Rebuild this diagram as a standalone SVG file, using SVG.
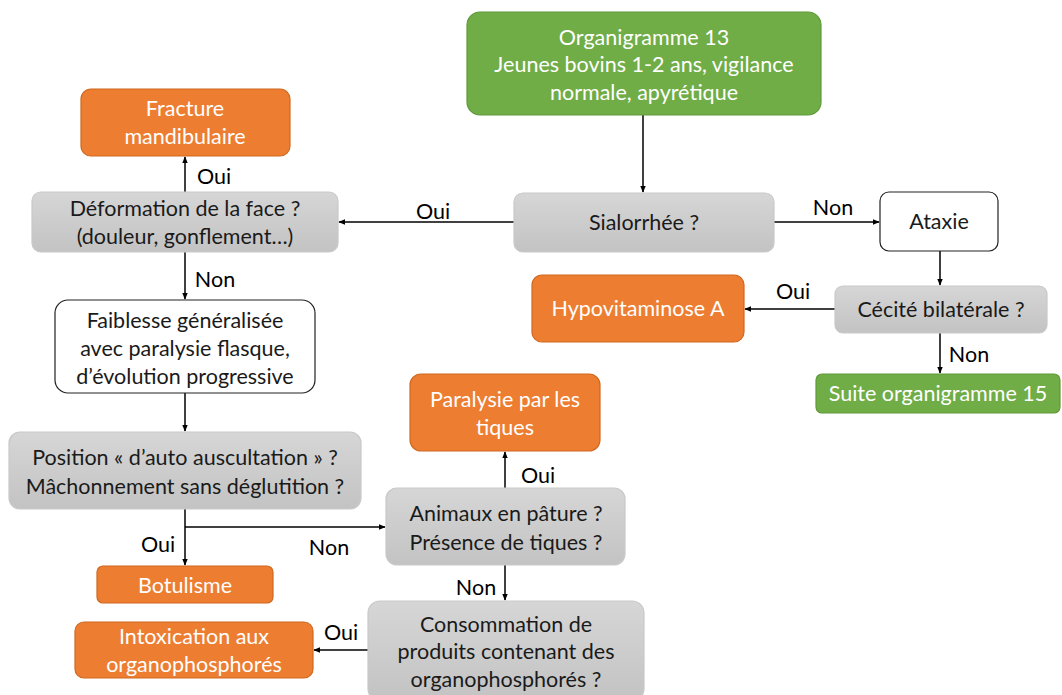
<svg xmlns="http://www.w3.org/2000/svg" width="1062" height="695" viewBox="0 0 1062 695">
  <defs>
    <linearGradient id="grayFill" x1="0" y1="0" x2="0" y2="1">
      <stop offset="0" stop-color="#d6d6d6"/>
      <stop offset="1" stop-color="#c3c3c3"/>
    </linearGradient>
    <marker id="arrow" viewBox="0 0 10 10" refX="9" refY="5" markerWidth="7" markerHeight="7" orient="auto" markerUnits="userSpaceOnUse">
      <path d="M0,1 L10,5 L0,9 Z" fill="#000"/>
    </marker>
    <style>
      .box { stroke-width: 1.2; }
      .green { fill: #70ad47; stroke: #5e9a38; }
      .orange { fill: #ed7d31; stroke: #d0691f; }
      .gray { fill: url(#grayFill); stroke: #c9c9c9; }
      .white { fill: #ffffff; stroke: #222; }
      text { font-family: Lato, "Open Sans", "Liberation Sans", sans-serif; font-size: 21.5px; text-anchor: middle; dominant-baseline: central; }
      .lt { fill: #ffffff; }
      .dk { fill: #1a1a1a; }
      .lbl { fill: #000; text-anchor: middle; }
      .edge { stroke: #000; stroke-width: 1.5; fill: none; }
    </style>
  </defs>

  <!-- connectors -->
  <g id="connectors">
    <line class="edge" x1="643" y1="115" x2="643" y2="192" marker-end="url(#arrow)"/>
    <line class="edge" x1="514" y1="222" x2="339" y2="222" marker-end="url(#arrow)"/>
    <text class="lbl" x="433" y="211">Oui</text>
    <line class="edge" x1="774" y1="222" x2="879" y2="222" marker-end="url(#arrow)"/>
    <text class="lbl" x="833" y="207">Non</text>
    <line class="edge" x1="940" y1="251" x2="940" y2="285" marker-end="url(#arrow)"/>
    <line class="edge" x1="835" y1="309" x2="745" y2="309" marker-end="url(#arrow)"/>
    <text class="lbl" x="793" y="291">Oui</text>
    <line class="edge" x1="940" y1="333" x2="940" y2="373" marker-end="url(#arrow)"/>
    <text class="lbl" x="969" y="354">Non</text>
    <line class="edge" x1="185" y1="192" x2="185" y2="157" marker-end="url(#arrow)"/>
    <text class="lbl" x="214" y="176">Oui</text>
    <line class="edge" x1="185" y1="252" x2="185" y2="299" marker-end="url(#arrow)"/>
    <text class="lbl" x="215" y="279">Non</text>
    <line class="edge" x1="185" y1="393" x2="185" y2="431" marker-end="url(#arrow)"/>
    <line class="edge" x1="185" y1="509" x2="185" y2="565" marker-end="url(#arrow)"/>
    <text class="lbl" x="158" y="544">Oui</text>
    <line class="edge" x1="185" y1="527" x2="385" y2="527" marker-end="url(#arrow)"/>
    <text class="lbl" x="329" y="547">Non</text>
    <line class="edge" x1="505" y1="488" x2="505" y2="452" marker-end="url(#arrow)"/>
    <text class="lbl" x="538" y="475">Oui</text>
    <line class="edge" x1="505" y1="565" x2="505" y2="600" marker-end="url(#arrow)"/>
    <text class="lbl" x="476" y="587">Non</text>
    <line class="edge" x1="368" y1="650" x2="314" y2="650" marker-end="url(#arrow)"/>
    <text class="lbl" x="341" y="632">Oui</text>
  </g>

  <g id="n-organigramme13">
    <rect class="box green" x="467" y="12" width="354" height="103" rx="13"/>
    <text class="lt" x="644" y="37">Organigramme 13</text>
    <text class="lt" x="644" y="64">Jeunes bovins 1-2 ans, vigilance</text>
    <text class="lt" x="644" y="92">normale, apyrétique</text>
  </g>

  <g id="n-fracture">
    <rect class="box orange" x="81" y="89" width="209" height="67" rx="10"/>
    <text class="lt" x="185" y="108">Fracture</text>
    <text class="lt" x="185" y="136">mandibulaire</text>
  </g>

  <g id="n-deformation">
    <rect class="box gray" x="32" y="192" width="306" height="60" rx="9"/>
    <text class="dk" x="185" y="208">Déformation de la face ?</text>
    <text class="dk" x="185" y="236">(douleur, gonflement…)</text>
  </g>

  <g id="n-sialorrhee">
    <rect class="box gray" x="514" y="193" width="260" height="59" rx="9"/>
    <text class="dk" x="644" y="222">Sialorrhée ?</text>
  </g>

  <g id="n-ataxie">
    <rect class="box white" x="880" y="192" width="118" height="59" rx="9"/>
    <text class="dk" x="939" y="221">Ataxie</text>
  </g>

  <g id="n-hypovitaminose">
    <rect class="box orange" x="532" y="275" width="212" height="67" rx="10"/>
    <text class="lt" x="638" y="308">Hypovitaminose A</text>
  </g>

  <g id="n-cecite">
    <rect class="box gray" x="835" y="286" width="212" height="47" rx="8"/>
    <text class="dk" x="941" y="309">Cécité bilatérale ?</text>
  </g>

  <g id="n-suite15">
    <rect class="box green" x="816" y="374" width="244" height="39" rx="6"/>
    <text class="lt" x="938" y="393">Suite organigramme 15</text>
  </g>

  <g id="n-faiblesse">
    <rect class="box white" x="55" y="300" width="260" height="93" rx="13"/>
    <text class="dk" x="185" y="320">Faiblesse généralisée</text>
    <text class="dk" x="185" y="348">avec paralysie flasque,</text>
    <text class="dk" x="185" y="376">d’évolution progressive</text>
  </g>

  <g id="n-position">
    <rect class="box gray" x="9" y="432" width="352" height="77" rx="11"/>
    <text class="dk" x="185" y="457">Position « d’auto auscultation » ?</text>
    <text class="dk" x="185" y="486">Mâchonnement sans déglutition ?</text>
  </g>

  <g id="n-botulisme">
    <rect class="box orange" x="97" y="566" width="176" height="37" rx="6"/>
    <text class="lt" x="185" y="585">Botulisme</text>
  </g>

  <g id="n-paralysie">
    <rect class="box orange" x="410" y="374" width="190" height="77" rx="11"/>
    <text class="lt" x="505" y="399">Paralysie par les</text>
    <text class="lt" x="505" y="427">tiques</text>
  </g>

  <g id="n-animaux">
    <rect class="box gray" x="386" y="488" width="239" height="77" rx="11"/>
    <text class="dk" x="506" y="513">Animaux en pâture ?</text>
    <text class="dk" x="506" y="542">Présence de tiques ?</text>
  </g>

  <g id="n-consommation">
    <rect class="box gray" x="368" y="601" width="276" height="100" rx="12"/>
    <text class="dk" x="506" y="624">Consommation de</text>
    <text class="dk" x="506" y="651">produits contenant des</text>
    <text class="dk" x="506" y="679">organophosphorés ?</text>
  </g>

  <g id="n-intoxication">
    <rect class="box orange" x="75" y="622" width="238" height="56" rx="9"/>
    <text class="lt" x="194" y="636">Intoxication aux</text>
    <text class="lt" x="194" y="664">organophosphorés</text>
  </g>
</svg>
